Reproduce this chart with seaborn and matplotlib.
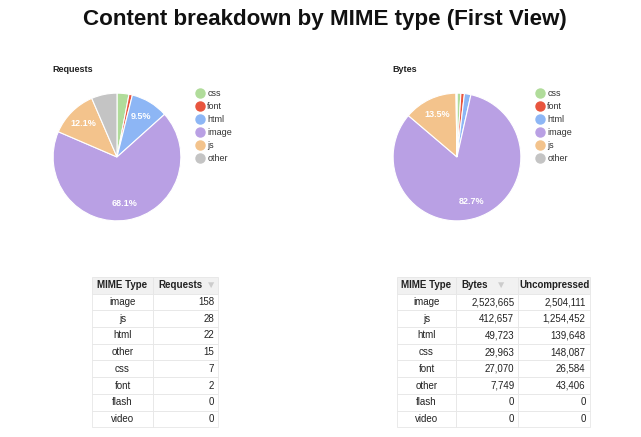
import matplotlib
matplotlib.use("Agg")
import numpy as np
import matplotlib.pyplot as plt
import seaborn as sns

# pie data
mime_types = ["css", "font", "html", "image", "js", "other"]
requests = [7, 2, 22, 158, 28, 15]
bytes_ = [29963, 27070, 49723, 2523665, 412657, 7749]

# table data
req_table_types = ["image", "js", "html", "other", "css", "font", "flash", "video"]
req_table_counts = [158, 28, 22, 15, 7, 2, 0, 0]
bytes_table_types = ["image", "js", "html", "css", "font", "other", "flash", "video"]
bytes_table_bytes = [2523665, 412657, 49723, 29963, 27070, 7749, 0, 0]
bytes_table_uncomp = [2504111, 1254452, 139648, 148087, 26584, 43406, 0, 0]

colors = ["#b0dc9a", "#e8553e", "#8db6f5", "#b9a0e4", "#f3c38c", "#c4c4c4"]

sns.set_theme(style="white")
plt.rcParams["font.family"] = ["Liberation Sans", "DejaVu Sans"]

W, H = 641, 437
fig = plt.figure(figsize=(W / 100, H / 100), dpi=100)


def px_axes(left, top, width, height):
    return fig.add_axes([left / W, 1 - (top + height) / H, width / W, height / H])


fig.text(325 / W, 1 - 20 / H, "Content breakdown by MIME type (First View)",
         ha="center", va="center", fontsize=16.1, fontweight="bold", color="#111111")


def draw_pie(values, left, title):
    ax = px_axes(left, 92.5, 129, 129)
    total = sum(values)
    wedges, _ = ax.pie(values, colors=sns.color_palette(colors), startangle=90,
                       counterclock=False,
                       wedgeprops=dict(edgecolor="white", linewidth=0.8))
    # only the bigger slices get a percentage label
    for w, v in zip(wedges, values):
        pct = v / total * 100
        if pct < 8:
            continue
        ang = np.deg2rad((w.theta1 + w.theta2) / 2)
        ax.text(0.74 * np.cos(ang), 0.74 * np.sin(ang), f"{pct:.1f}%",
                ha="center", va="center", color="white", fontsize=6.5, fontweight="bold")
    ax.set_xlim(-1.01, 1.01)
    ax.set_ylim(-1.01, 1.01)
    fig.text(left / W, 1 - 69 / H, title, fontsize=6.5, fontweight="bold",
             ha="left", va="center", color="#222222")
    handles = [plt.Line2D([], [], marker="o", linestyle="", markersize=6.5,
                          markerfacecolor=c, markeredgecolor=c) for c in colors]
    ax.legend(handles, mime_types, loc="upper left",
              bbox_to_anchor=((left + 135) / W, 1 - 81 / H),
              bbox_transform=fig.transFigure, frameon=False, fontsize=6.5,
              handletextpad=0.3, labelspacing=0.45, handlelength=1.0,
              labelcolor="#333333")


draw_pie(requests, 52.5, "Requests")
draw_pie(bytes_, 392.5, "Bytes")


def draw_table(left, top, col_widths, header, rows, aligns, arrow_col, arrow_x):
    total_w = sum(col_widths)
    row_h = 16.7
    n = len(rows) + 1
    ax = px_axes(left, top, total_w, row_h * n)
    ax.set_axis_off()
    tbl = ax.table(cellText=[header] + rows, bbox=[0, 0, 1, 1],
                   colWidths=[w / total_w for w in col_widths])
    tbl.auto_set_font_size(False)
    for (r, c), cell in tbl.get_celld().items():
        cell.set_edgecolor("#e6e6e6")
        cell.set_linewidth(0.6)
        txt = cell.get_text()
        txt.set_fontsize(7)
        txt.set_color("#222222")
        if r == 0:
            cell.set_facecolor("#f1f1f1")
            txt.set_fontweight("bold")
            if c == arrow_col:
                cell._loc = "left"
                txt.set_ha("left")
                cell.PAD = 0.08
            else:
                cell._loc = "center"
                txt.set_ha("center")
        else:
            cell.set_facecolor("white")
            cell._loc = aligns[c]
            txt.set_ha(aligns[c])
            cell.PAD = 0.06
    # sort arrow next to the sorted column
    fig.text(arrow_x / W, 1 - (top + row_h / 2) / H, "\u25bc", fontsize=7.5,
             color="#cccccc", ha="center", va="center")
    return ax


def fmt(v):
    return f"{v:,}"


draw_table(92, 277, [61, 65], ["MIME Type", "Requests"],
           [[t, fmt(v)] for t, v in zip(req_table_types, req_table_counts)],
           ["center", "right"], 1, 211)
draw_table(397, 277, [59, 62, 72], ["MIME Type", "Bytes", "Uncompressed"],
           [[t, fmt(b), fmt(u)] for t, b, u in
            zip(bytes_table_types, bytes_table_bytes, bytes_table_uncomp)],
           ["center", "right", "right"], 1, 501)

fig.savefig("out.png", dpi=100)
